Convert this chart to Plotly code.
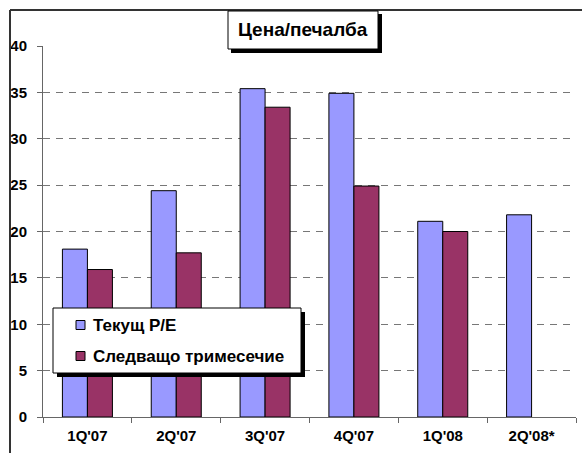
import plotly.graph_objects as go

categories = ["1Q'07", "2Q'07", "3Q'07", "4Q'07", "1Q'08", "2Q'08*"]
current_pe = [18.1, 24.4, 35.4, 34.9, 21.1, 21.8]
next_quarter = [15.9, 17.7, 33.4, 24.9, 20.0, None]
series_names = ["Текущ P/E", "Следващо тримесечие"]
title_text = "Цена/печалба"
y_ticks = [0, 5, 10, 15, 20, 25, 30, 35, 40]

W, H = 582, 453
L, R, T, B = 43, 576, 46, 417
FONT = "Arial, Liberation Sans, sans-serif"
BLUE = "#9999FF"
PLUM = "#993366"


def px(p):
    return (p - L) / (R - L)


def py(p):
    return (B - p) / (B - T)


fig = go.Figure()
fig.add_trace(go.Bar(x=categories, y=current_pe, name=series_names[0],
                     marker=dict(color=BLUE, line=dict(color="#000", width=1))))
fig.add_trace(go.Bar(x=categories, y=next_quarter, name=series_names[1],
                     marker=dict(color=PLUM, line=dict(color="#000", width=1))))

shapes = []
# outer frame (top and left)
shapes.append(dict(type="line", xref="paper", yref="paper", x0=px(10), x1=px(600),
                   y0=py(10), y1=py(10), line=dict(color="#333", width=2), layer="above"))
shapes.append(dict(type="line", xref="paper", yref="paper", x0=px(10), x1=px(10),
                   y0=py(10), y1=py(470), line=dict(color="#333", width=2), layer="above"))
# title box with shadow
shapes.append(dict(type="rect", xref="paper", yref="paper", x0=px(231), x1=px(382),
                   y0=py(14), y1=py(53), fillcolor="#000", line=dict(width=0), layer="above"))
shapes.append(dict(type="rect", xref="paper", yref="paper", x0=px(228), x1=px(378),
                   y0=py(11), y1=py(49), fillcolor="#fff", line=dict(color="#000", width=1),
                   layer="above"))
# legend box with shadow
shapes.append(dict(type="rect", xref="paper", yref="paper", x0=px(57), x1=px(305),
                   y0=py(312), y1=py(377), fillcolor="#000", line=dict(width=0), layer="above"))
shapes.append(dict(type="rect", xref="paper", yref="paper", x0=px(53), x1=px(301),
                   y0=py(308), y1=py(373), fillcolor="#fff", line=dict(color="#000", width=1),
                   layer="above"))
# legend swatches
for yc, col in [(325, BLUE), (356, PLUM)]:
    shapes.append(dict(type="rect", xref="paper", yref="paper", x0=px(76), x1=px(85),
                       y0=py(yc - 4.5), y1=py(yc + 4.5), fillcolor=col,
                       line=dict(color="#000", width=1), layer="above"))

annotations = [
    dict(text=title_text, xref="paper", yref="paper", x=px(303), y=py(30),
         xanchor="center", yanchor="middle", showarrow=False,
         font=dict(family=FONT, size=19, color="#000", weight="bold")),
    dict(text=series_names[0], xref="paper", yref="paper", x=px(91), y=py(325),
         xanchor="left", yanchor="middle", showarrow=False,
         font=dict(family=FONT, size=17, color="#000", weight="bold")),
    dict(text=series_names[1], xref="paper", yref="paper", x=px(91), y=py(356),
         xanchor="left", yanchor="middle", showarrow=False,
         font=dict(family=FONT, size=17, color="#000", weight="bold")),
]

fig.update_layout(
    width=W, height=H,
    margin=dict(l=L, r=W - R, t=T, b=H - B, pad=0, autoexpand=False),
    paper_bgcolor="#fff", plot_bgcolor="#fff",
    barmode="group", bargap=0.437, bargroupgap=0,
    showlegend=False,
    font=dict(family=FONT, size=14, color="#000"),
    shapes=shapes, annotations=annotations,
    xaxis=dict(type="category", showline=True, linecolor="#666", linewidth=1,
               ticks="outside", ticklen=5, tickcolor="#666", tickson="boundaries",
               showgrid=False, automargin=False,
               tickfont=dict(family=FONT, size=15, color="#000", weight="bold"),
               ticklabelstandoff=5),
    yaxis=dict(range=[0, 40], tickvals=y_ticks, showline=True, linecolor="#666", linewidth=1,
               ticks="outside", ticklen=5, tickcolor="#666", zeroline=False,
               showgrid=True, gridcolor="#777", gridwidth=1.3, griddash="7px,6px",
               automargin=False,
               tickfont=dict(family=FONT, size=15, color="#000", weight="bold"),
               ticklabelstandoff=7),
)

fig.write_html("out.html", config={"displayModeBar": False},
               post_script="document.body.style.margin='0';")
